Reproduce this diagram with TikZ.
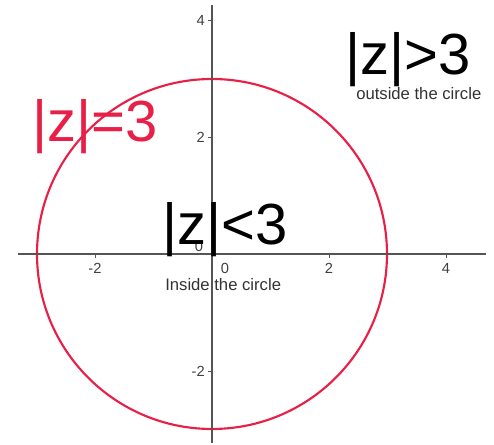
\documentclass[tikz,border=0pt]{standalone}
\usepackage{fontspec}
\setmainfont{Liberation Sans}
\definecolor{circred}{RGB}{232,32,72}
\definecolor{axisgray}{RGB}{85,85,85}
\begin{document}
\begin{tikzpicture}[x=0.75pt,y=-0.75pt,
 big/.style={inner sep=0, anchor=base west, font=\fontsize{43.5}{43.5}\selectfont},
 small/.style={inner sep=0, anchor=base west, font=\fontsize{12.5}{13}\selectfont, text=black!80},
 ticklab/.style={inner sep=0, font=\fontsize{11}{12}\selectfont, text=black!75},
 axis/.style={draw=axisgray, line width=1.1pt},
 tickmark/.style={draw=axisgray, line width=0.6pt}]
\useasboundingbox (0,0) rectangle (494,445);
\coordinate (O) at (212,254);
\coordinate (xl) at (18,254);
\coordinate (xr) at (486,254);
\coordinate (yt) at (212,5);
\coordinate (yb) at (212,443);
\draw[circred, line width=1.6pt] (O) circle [radius=175];
\draw[axis] (xl) -- (xr);
\draw[axis] (yt) -- (yb);
\foreach \i/\t in {-2/-2,2/2,4/4}{
  \coordinate (xt\i) at (212+58.5*\i,254);
  \draw[tickmark] (xt\i) -- ++(0,4);
  \node[ticklab] (xl\i) at (212+58.5*\i,268) {\t};
  \coordinate (yt\i) at (212,254-58.5*\i);
  \draw[tickmark] (yt\i) -- ++(-4,0);
  \node[ticklab, anchor=east] (yl\i) at (205,254-58.5*\i) {\t};
}
\node[ticklab] (x0) at (225,268) {0};
\node[ticklab] (y0) at (199,246) {0};
\node[big] (lt) at (162,245) {|z|<3};
\node[small] (inside) at (165,291) {Inside the circle};
\node[big] (gt) at (345,75) {|z|>3};
\node[small] (outside) at (356,100) {outside the circle};
\node[big, text=circred] (eq) at (32,142) {|z|=3};
\end{tikzpicture}
\end{document}
